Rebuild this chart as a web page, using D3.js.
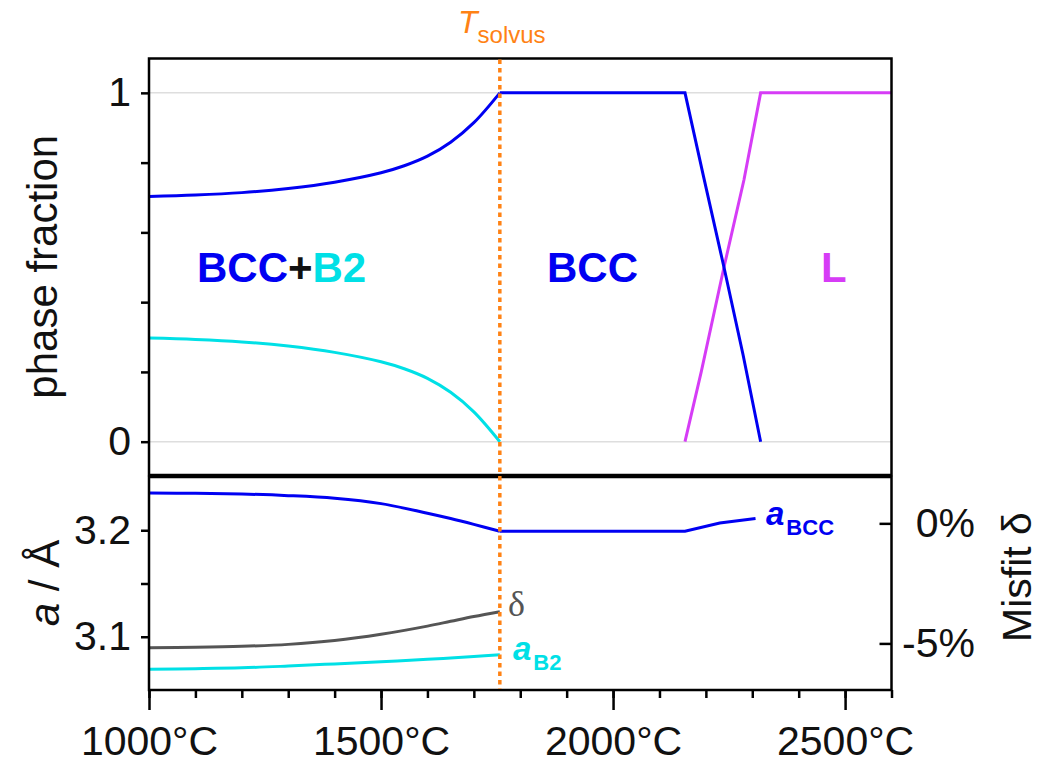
<!DOCTYPE html>
<html>
<head>
<meta charset="utf-8">
<script src="https://cdn.jsdelivr.net/npm/d3@7"></script>
<style>
  html, body { margin: 0; padding: 0; background: #fff; }
  svg { display: block; font-family: "Liberation Sans", Arial, sans-serif; }
</style>
</head>
<body>
<svg id="chart" width="1053" height="766"></svg>
<script>
// ---------------- data ----------------
const T_SOLVUS = 1756;
// two-phase region (BCC + B2)
const temp2ph   = [1000, 1100, 1200, 1300, 1400, 1500, 1550, 1600, 1650, 1700, 1756];
const fracBCC2  = [0.703, 0.707, 0.714, 0.726, 0.744, 0.771, 0.791, 0.8185, 0.8585, 0.9145, 1.0];
const fracB2    = [0.297, 0.293, 0.286, 0.274, 0.256, 0.229, 0.209, 0.1815, 0.1415, 0.0855, 0.0];
// single BCC + melting
const tempBCChi = [1756, 2155, 2195, 2239, 2280, 2318];
const fracBCChi = [1.0, 1.0, 0.76, 0.5, 0.25, 0.0];
const tempL     = [2155, 2190, 2239, 2282, 2318, 2600];
const fracL     = [0.0, 0.2, 0.5, 0.75, 1.0, 1.0];
// lattice parameters (Å) and misfit (%)
const tempLat   = [1000, 1100, 1200, 1300, 1400, 1500, 1600, 1650, 1700, 1756];
const aBCC      = [3.235, 3.2347, 3.234, 3.2325, 3.230, 3.225, 3.216, 3.211, 3.2055, 3.199];
const aB2       = [3.0695, 3.070, 3.0708, 3.0725, 3.0745, 3.0765, 3.0788, 3.080, 3.0815, 3.083];
const misfit    = [-5.18, -5.16, -5.12, -5.04, -4.88, -4.62, -4.28, -4.08, -3.88, -3.68];
const tempLatHi = [1756, 2155, 2230, 2307];
const aBCChi    = [3.199, 3.199, 3.2068, 3.211];
// ticks
const xMajor = [1000, 1500, 2000, 2500];
const xMinor = d3.range(1000, 2601, 100);
const yFracTicks = [0, 0.2, 0.4, 0.6, 0.8, 1];
const yFracLabels = [0, 1];
const aTicks = [3.1, 3.15, 3.2];
const aLabels = [3.1, 3.2];
const misfitTicks = [0, -5];

// ---------------- colours ----------------
const BLUE = "#0000f2", CYAN = "#00e0e6", MAGENTA = "#d63cf6", ORANGE = "#ff8214", GRAY = "#555555";

const svg = d3.select("#chart");
const FS = 41;

// ---------------- scales ----------------
const x = d3.scaleLinear().domain([1000, 2600]).range([149, 891.5]);
const yTop = d3.scaleLinear().domain([-0.0955, 1.0985]).range([475, 58.5]);
const yA = d3.scaleLinear().domain([3.05, 3.25]).range([690, 477]);
const yD = d3.scaleLinear().domain([-6.94, 1.93]).range([690, 477]);

const zip = (xs, ys) => xs.map((v, i) => [v, ys[i]]);
const SMOOTH = d3.curveCatmullRom.alpha(0.5);

// ---------------- top panel ----------------
svg.append("g").selectAll("line").data(yFracLabels).join("line")
  .attr("x1", x(1000)).attr("x2", x(2600))
  .attr("y1", d => yTop(d)).attr("y2", d => yTop(d))
  .attr("stroke", "#dedede").attr("stroke-width", 1.5);

const lineTop = (curve) => d3.line().x(d => x(d[0])).y(d => yTop(d[1])).curve(curve);

svg.append("path").attr("d", lineTop(SMOOTH)(zip(temp2ph, fracBCC2)))
  .attr("fill", "none").attr("stroke", BLUE).attr("stroke-width", 3);
svg.append("path").attr("d", lineTop(SMOOTH)(zip(temp2ph, fracB2)))
  .attr("fill", "none").attr("stroke", CYAN).attr("stroke-width", 3);
svg.append("path").attr("d", lineTop(d3.curveLinear)(zip(tempL, fracL)))
  .attr("fill", "none").attr("stroke", MAGENTA).attr("stroke-width", 3);
svg.append("path").attr("d", lineTop(d3.curveLinear)(zip(tempBCChi, fracBCChi)))
  .attr("fill", "none").attr("stroke", BLUE).attr("stroke-width", 3).attr("stroke-linejoin", "miter");

const axTop = svg.append("g").attr("transform", `translate(${x(1000)},0)`)
  .call(d3.axisLeft(yTop).tickValues(yFracTicks).tickSize(8).tickPadding(10)
    .tickFormat(d => yFracLabels.includes(d) ? String(d) : ""));
axTop.select(".domain").remove();
axTop.selectAll(".tick line").attr("stroke", "#000").attr("stroke-width", 2.5);
axTop.selectAll(".tick text").attr("font-size", FS).attr("fill", "#111")
  .attr("font-family", "Liberation Sans, Arial, sans-serif");

svg.append("rect").attr("x", x(1000)).attr("y", yTop.range()[1])
  .attr("width", x(2600) - x(1000)).attr("height", yTop.range()[0] - yTop.range()[1])
  .attr("fill", "none").attr("stroke", "#000").attr("stroke-width", 2.5);

const lbl1 = svg.append("text").attr("x", 197).attr("y", 282)
  .attr("font-size", 42).attr("font-weight", "bold");
lbl1.append("tspan").attr("fill", BLUE).text("BCC");
lbl1.append("tspan").attr("fill", "#111").text("+");
lbl1.append("tspan").attr("fill", CYAN).text("B2");
svg.append("text").attr("x", 547).attr("y", 282).attr("font-size", 42)
  .attr("font-weight", "bold").attr("fill", BLUE).text("BCC");
svg.append("text").attr("x", 821).attr("y", 282).attr("font-size", 42)
  .attr("font-weight", "bold").attr("fill", MAGENTA).text("L");

svg.append("text").attr("transform", `translate(57,${(yTop(1) + yTop(0)) / 2 - 0.5}) rotate(-90)`)
  .attr("text-anchor", "middle").attr("font-size", 42).attr("fill", "#111").text("phase fraction");

// ---------------- bottom panel ----------------
const lineA = (curve) => d3.line().x(d => x(d[0])).y(d => yA(d[1])).curve(curve);
const lineD = d3.line().x(d => x(d[0])).y(d => yD(d[1])).curve(SMOOTH);

svg.append("path").attr("d", lineA(SMOOTH)(zip(tempLat, aBCC)))
  .attr("fill", "none").attr("stroke", BLUE).attr("stroke-width", 3);
svg.append("path").attr("d", lineA(d3.curveLinear)(zip(tempLatHi, aBCChi)))
  .attr("fill", "none").attr("stroke", BLUE).attr("stroke-width", 3);
svg.append("path").attr("d", lineA(SMOOTH)(zip(tempLat, aB2)))
  .attr("fill", "none").attr("stroke", CYAN).attr("stroke-width", 3);
svg.append("path").attr("d", lineD(zip(tempLat, misfit)))
  .attr("fill", "none").attr("stroke", GRAY).attr("stroke-width", 3);

const axA = svg.append("g").attr("transform", `translate(${x(1000)},0)`)
  .call(d3.axisLeft(yA).tickValues(aTicks).tickSize(8).tickPadding(10)
    .tickFormat(d => aLabels.includes(d) ? d.toFixed(1) : ""));
axA.select(".domain").remove();
axA.selectAll(".tick line").attr("stroke", "#000").attr("stroke-width", 2.5);
axA.selectAll(".tick text").attr("font-size", FS).attr("fill", "#111")
  .attr("font-family", "Liberation Sans, Arial, sans-serif");

const axD = svg.append("g").attr("transform", `translate(${x(2600)},0)`)
  .call(d3.axisRight(yD).tickValues(misfitTicks).tickSize(-12).tickFormat(d => `${d}%`));
axD.select(".domain").remove();
axD.selectAll(".tick line").attr("stroke", "#000").attr("stroke-width", 2.5);
axD.selectAll(".tick text").attr("font-size", FS).attr("fill", "#111")
  .attr("font-family", "Liberation Sans, Arial, sans-serif")
  .attr("text-anchor", "end").attr("x", 975 - x(2600));

const axMinor = svg.append("g").attr("transform", `translate(0,${yA.range()[0]})`)
  .call(d3.axisBottom(x).tickValues(xMinor).tickSize(8).tickFormat(""));
axMinor.select(".domain").remove();
axMinor.selectAll(".tick line").attr("stroke", "#000").attr("stroke-width", 2.5);
const axMajor = svg.append("g").attr("transform", `translate(0,${yA.range()[0]})`)
  .call(d3.axisBottom(x).tickValues(xMajor).tickSize(20).tickFormat(d => `${d}°C`));
axMajor.select(".domain").remove();
axMajor.selectAll(".tick line").attr("stroke", "#000").attr("stroke-width", 2.5);
axMajor.selectAll(".tick text").attr("font-size", FS).attr("fill", "#111")
  .attr("font-family", "Liberation Sans, Arial, sans-serif")
  .attr("y", 65).attr("dy", 0);

svg.append("rect").attr("x", x(1000)).attr("y", yA.range()[1])
  .attr("width", x(2600) - x(1000)).attr("height", yA.range()[0] - yA.range()[1])
  .attr("fill", "none").attr("stroke", "#000").attr("stroke-width", 2.5);

const la = svg.append("text").attr("x", 766).attr("y", 525).attr("fill", BLUE)
  .attr("font-size", 33).attr("font-weight", "bold");
la.append("tspan").attr("font-style", "italic").text("a");
la.append("tspan").attr("font-size", 22).attr("dx", 2).attr("dy", 10).text("BCC");
const lb = svg.append("text").attr("x", 513).attr("y", 660).attr("fill", CYAN)
  .attr("font-size", 33).attr("font-weight", "bold");
lb.append("tspan").attr("font-style", "italic").text("a");
lb.append("tspan").attr("font-size", 22).attr("dx", 2).attr("dy", 10).text("B2");
svg.append("text").attr("x", 508).attr("y", 616).attr("fill", GRAY)
  .attr("font-family", "Liberation Serif, serif").attr("font-size", 36).text("δ");

const at = svg.append("text").attr("transform", `translate(59,583) rotate(-90)`)
  .attr("text-anchor", "middle").attr("font-size", 42).attr("fill", "#111");
at.append("tspan").attr("font-style", "italic").text("a");
at.append("tspan").text(" / Å");
svg.append("text").attr("transform", `translate(1031,577) rotate(-90)`)
  .attr("text-anchor", "middle").attr("font-size", 41).attr("fill", "#111").text("Misfit δ");

// ---------------- T solvus ----------------
svg.append("line").attr("x1", x(T_SOLVUS)).attr("x2", x(T_SOLVUS))
  .attr("y1", yTop.range()[1] + 1).attr("y2", yA.range()[0] - 1)
  .attr("stroke", ORANGE).attr("stroke-width", 3.5).attr("stroke-dasharray", "4.5,4");
const ts = svg.append("text").attr("x", 458).attr("y", 33).attr("fill", ORANGE).attr("font-size", 32);
ts.append("tspan").attr("font-style", "italic").text("T");
ts.append("tspan").attr("font-size", 24).attr("dy", 10).attr("dx", 0).text("solvus");
</script>
</body>
</html>
